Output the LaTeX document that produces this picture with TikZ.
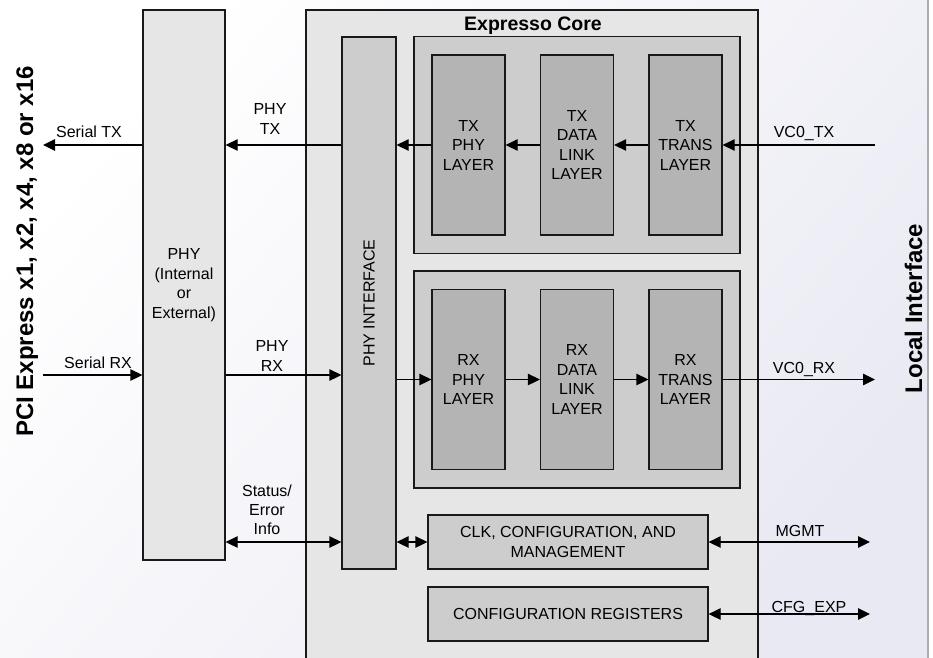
\documentclass[tikz,border=0pt]{standalone}
\usepackage{fontspec}
\setmainfont{Liberation Sans}
\usetikzlibrary{arrows.meta}
\definecolor{coregray}{RGB}{230,230,230}
\definecolor{midgray}{RGB}{205,205,205}
\definecolor{layergray}{RGB}{180,180,180}
\definecolor{lavender}{RGB}{233,233,243}
\definecolor{edgegray}{RGB}{172,172,172}
\newcommand\boxfont{\fontsize{16bp}{19.5bp}\selectfont}
\newcommand\sidefont{\bfseries\fontsize{24bp}{28bp}\selectfont}
\begin{document}
\begin{tikzpicture}[
  blk/.style={draw=black!90,line width=1.3bp,inner sep=0pt,align=center,font=\boxfont},
  layer/.style={blk,fill=layergray,minimum width=73bp,minimum height=180bp},
  grp/.style={blk,fill=midgray,minimum width=326bp,minimum height=217bp},
  sigtext/.style={inner sep=0pt,align=center,font=\boxfont},
  sig/.style={line width=1.3bp,-{Triangle[length=12bp,width=11.5bp]}},
  bisig/.style={line width=1.3bp,{Triangle[length=12bp,width=11.5bp]}-{Triangle[length=12bp,width=11.5bp]}}]
\useasboundingbox (0bp,0bp) rectangle (933bp,-658bp);
\shade[left color=white,right color=lavender,shading angle=50] (0bp,0bp) rectangle (928bp,-658bp);
\draw[edgegray,line width=1.5bp] (928bp,0bp) -- (928bp,-658bp);
\node (core) at (532bp,-355bp)[blk,fill=coregray,minimum width=452bp,minimum height=690bp] {};
\node (coretitle) at (533bp,-30bp)[anchor=base,inner sep=0pt,font=\bfseries\fontsize{19.5bp}{21bp}\selectfont] {Expresso Core};
\node (phy) at (184bp,-285bp)[blk,fill=coregray,minimum width=82bp,minimum height=550bp] {PHY\\(Internal\\or\\External)};
\node (phyif) at (369bp,-303bp)[blk,fill=midgray,minimum width=54bp,minimum height=532bp] {};
\node (phyiftext) at (phyif.center)[rotate=90,sigtext] {PHY INTERFACE};
\node (txgrp) at (577bp,-145bp)[grp] {};
\node (rxgrp) at (577bp,-379.5bp)[grp] {};
\node (txphy) at (468.5bp,-145bp)[layer] {TX\\PHY\\LAYER};
\node (txdl) at (577bp,-145bp)[layer] {TX\\DATA\\LINK\\LAYER};
\node (txtrans) at (685.5bp,-145bp)[layer] {TX\\TRANS\\LAYER};
\node (rxphy) at (468.5bp,-379.5bp)[layer] {RX\\PHY\\LAYER};
\node (rxdl) at (577bp,-379.5bp)[layer] {RX\\DATA\\LINK\\LAYER};
\node (rxtrans) at (685.5bp,-379.5bp)[layer] {RX\\TRANS\\LAYER};
\node (clk) at (568bp,-542bp)[blk,fill=midgray,minimum width=280bp,minimum height=54bp] {CLK, CONFIGURATION, AND\\MANAGEMENT};
\node (cfgreg) at (568bp,-614bp)[blk,fill=midgray,minimum width=280bp,minimum height=54bp] {CONFIGURATION REGISTERS};
\node (pcielbl) at (33bp,-251.5bp)[rotate=90,anchor=base,inner sep=0pt,font=\sidefont] {PCI Express x1, x2, x4, x8 or x16};
\node (locallbl) at (922bp,-308.5bp)[rotate=90,anchor=base,inner sep=0pt,font=\sidefont] {Local Interface};
\coordinate (sertx) at (43bp,-145bp);
\coordinate (serrx) at (43bp,-375bp);
\coordinate (vctx) at (875bp,-145bp);
\coordinate (vcrx) at (875bp,-379.5bp);
\coordinate (mgmt) at (870bp,-542bp);
\coordinate (cfgexp) at (870bp,-614bp);
\draw[sig] (phy.west |- sertx) -- (sertx);
\draw[sig] (phyif.west |- sertx) -- (phy.east |- sertx);
\draw[sig] (txphy) -- (phyif.east |- txphy);
\draw[sig] (txdl) -- (txphy);
\draw[sig] (txtrans) -- (txdl);
\draw[sig] (vctx) -- (txtrans);
\draw[sig] (serrx) -- (phy.west |- serrx);
\draw[sig] (phy.east |- serrx) -- (phyif.west |- serrx);
\draw[sig] (phyif.east |- rxphy) -- (rxphy);
\draw[sig] (rxphy) -- (rxdl);
\draw[sig] (rxdl) -- (rxtrans);
\draw[sig] (rxtrans) -- (vcrx);
\draw[bisig] (phy.east |- clk) -- (phyif.west |- clk);
\draw[bisig] (phyif.east |- clk) -- (clk);
\draw[bisig] (clk) -- (mgmt);
\draw[bisig] (cfgreg) -- (cfgexp);
\node (sertxlbl) at (89bp,-137bp)[sigtext,anchor=base] {Serial TX};
\node (phytxlbl) at (270bp,-119bp)[sigtext] {PHY\\TX};
\node (vctxlbl) at (804bp,-137bp)[sigtext,anchor=base] {VC0\_TX};
\node (serrxlbl) at (98bp,-368bp)[sigtext,anchor=base] {Serial RX};
\node (phyrxlbl) at (272bp,-356bp)[sigtext] {PHY\\RX};
\node (vcrxlbl) at (804bp,-373bp)[sigtext,anchor=base] {VC0\_RX};
\node (statuslbl) at (267bp,-510bp)[sigtext,font=\fontsize{16bp}{19bp}\selectfont] {Status/\\Error\\Info};
\node (mgmtlbl) at (800bp,-536bp)[sigtext,anchor=base] {MGMT};
\node (cfgexplbl) at (809bp,-612bp)[sigtext,anchor=base] {CFG\_EXP};
\end{tikzpicture}
\end{document}
